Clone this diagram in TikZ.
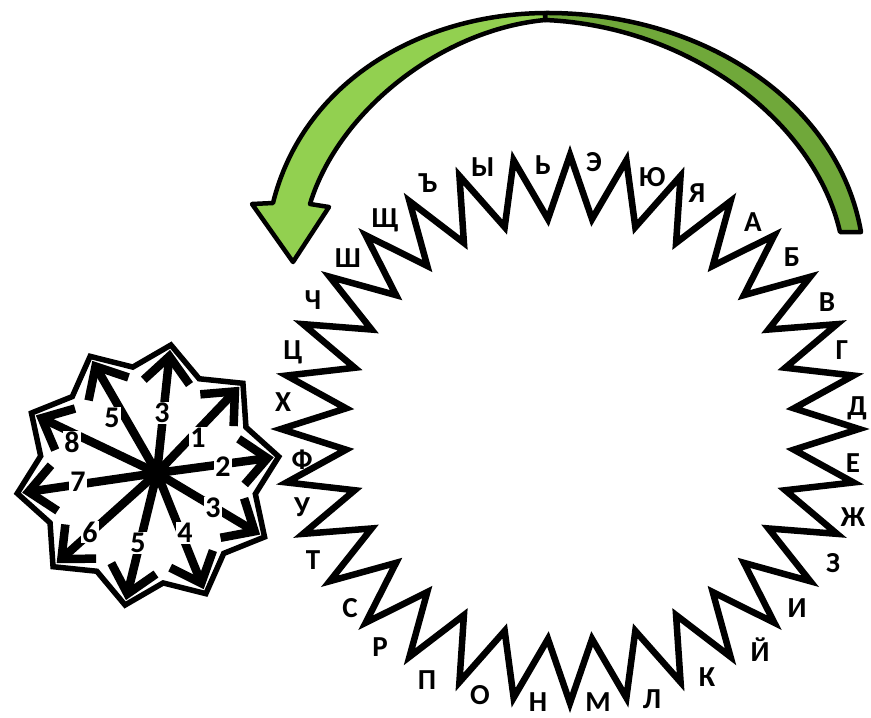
\documentclass[tikz,border=0pt]{standalone}
\usepackage{fontspec}
\setmainfont{Carlito}
\usetikzlibrary{arrows.meta}
\definecolor{lightgreen}{RGB}{146,208,80}
\definecolor{darkgreen}{RGB}{112,168,58}
\begin{document}
\begin{tikzpicture}[x=1pt,y=-1pt,
  letter/.style={font=\bfseries\fontsize{29}{29}\selectfont, inner sep=0pt, text=black},
  numlab/.style={font=\bfseries\fontsize{30}{30}\selectfont, inner sep=1pt, fill=white, text=black},
  gearline/.style={draw=black, line width=6.5pt, line join=miter, fill=white},
  smallgear/.style={draw=black, line width=5.5pt, line join=miter, fill=white},
  spoke/.style={draw=black, line width=8.5pt, -{Straight Barb[length=26pt,width=46pt]}},
  band/.style={draw=black, line width=4.5pt, line join=round}]
\useasboundingbox (0,0) rectangle (871,718);

% green curved arrow
\path[band, fill=darkgreen] (545,13) .. controls (700,12) and (838,100) .. (861,232)
   -- (840,232) .. controls (815,122) and (690,26) .. (545,20) -- cycle;
\path[band, fill=lightgreen] (545,13) .. controls (420,14) and (303,82) .. (273,203)
   -- (252,204) -- (293,262) -- (329,207) -- (310,204)
   .. controls (338,112) and (440,30) .. (545,20) -- cycle;

% big gear
\path[gearline] ({570+289*cos(90)},{429-274*sin(90)})
  \foreach \k in {0,...,31} {
    -- ({570+225*cos(95.625+11.25*\k)},{429-211*sin(95.625+11.25*\k)})
    -- ({570+289*cos(101.25+11.25*\k)},{429-274*sin(101.25+11.25*\k)})
  } -- cycle;

\foreach \l/\x/\y [count=\i] in {А/753/222, Б/792/257, В/827/302, Г/842/350, Д/857/408,
   Е/853/463, Ж/853/517, З/833/563, И/797/608, Й/760/650, К/707/677, Л/652/699,
   М/598/702, Н/538/702, О/480/695, П/427/680, Р/380/647, С/350/608, Т/313/560,
   У/302/507, Ф/302/460, Х/283/402, Ц/293/352, Ч/313/300, Ш/348/258, Щ/385/220,
   Ъ/428/183, Ы/483/167, Ь/543/165, Э/594/162, Ю/652/177, Я/697/193}
  \node[letter] (L\i) at (\x,\y) {\l};

% small gear
\path[smallgear] ({148+132*cos(8)},{475-132*sin(8)})
  \foreach \k in {0,...,9} {
    -- ({148+109*cos(26+36*\k)},{475-109*sin(26+36*\k)})
    -- ({148+132*cos(44+36*\k)},{475-132*sin(44+36*\k)})
  } -- cycle;

\coordinate (hub) at (157,473);
\foreach \ang [count=\i] in {8, 44, 80, 116, 152, 188, 224, 260, 296, 332} {
  \coordinate (t\i) at ({148+127*cos(\ang)},{475-127*sin(\ang)});
  \draw[spoke] (hub) -- (t\i);
}
\foreach \lab/\lx/\ly [count=\i] in {2/223/467, 1/198/438, 3/162/413,
   5/112/418, 8/72/442, 7/78/482, 6/90/532, 5/138/543,
   4/185/533, 3/213/508} {
  \node[numlab] (n\i) at (\lx,\ly) {\lab};
}
\end{tikzpicture}
\end{document}
